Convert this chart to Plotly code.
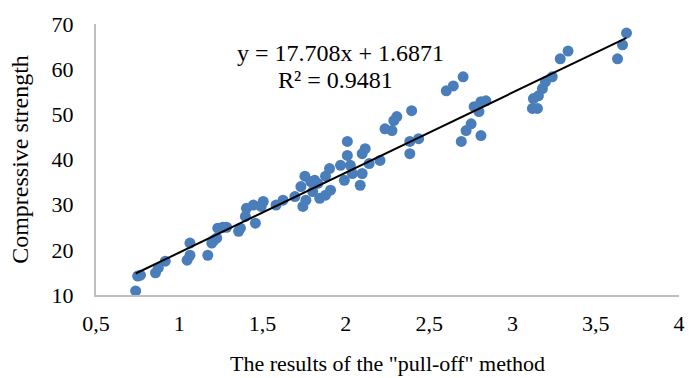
import plotly.graph_objects as go

# Data (x: "pull-off" result, y: compressive strength)
pull_off = [
    0.738, 0.750, 0.767, 0.857, 0.874, 0.916, 1.047, 1.064, 1.064, 1.171,
    1.195, 1.207, 1.225, 1.231, 1.261, 1.284, 1.356, 1.367, 1.397, 1.403,
    1.445, 1.457, 1.492, 1.504, 1.581, 1.623, 1.694, 1.730, 1.754, 1.742,
    1.760, 1.789, 1.813, 1.801, 1.843, 1.878, 1.908, 1.831, 1.878, 1.902,
    1.968, 1.991, 2.009, 2.009, 2.027, 2.039, 2.098, 2.086, 2.098, 2.116,
    2.140, 2.205, 2.235, 2.277, 2.288, 2.306, 2.384, 2.384, 2.395, 2.437,
    2.603, 2.645, 2.704, 2.693, 2.722, 2.752, 2.811, 2.770, 2.799, 2.811,
    2.841, 3.126, 3.120, 3.150, 3.156, 3.180, 3.198, 3.239, 3.287, 3.334,
    3.631, 3.661, 3.685,
]
strength = [
    10.9, 14.2, 14.4, 14.9, 16.0, 17.5, 17.7, 18.8, 21.5, 18.8,
    21.5, 22.1, 22.6, 24.8, 25.0, 25.0, 24.1, 24.8, 27.4, 29.2,
    29.9, 25.9, 29.6, 30.7, 29.9, 31.0, 31.8, 34.0, 36.3, 29.6,
    31.0, 35.1, 35.4, 32.9, 31.4, 32.1, 33.2, 34.7, 36.3, 38.0,
    38.7, 35.4, 40.9, 44.0, 38.7, 36.9, 36.9, 34.3, 41.3, 42.4,
    39.1, 39.8, 46.8, 46.4, 48.6, 49.5, 41.3, 44.0, 50.8, 44.6,
    55.2, 56.3, 58.3, 44.0, 46.4, 47.9, 45.3, 51.7, 50.6, 52.8,
    53.0, 53.5, 51.3, 51.3, 54.1, 55.7, 57.2, 58.3, 62.3, 64.0,
    62.3, 65.4, 68.0,
]

slope = 17.708
intercept = 1.6871
r_squared = 0.9481

x_ticks = [0.5, 1, 1.5, 2, 2.5, 3, 3.5, 4]
x_tick_text = ["0,5", "1", "1,5", "2", "2,5", "3", "3,5", "4"]
y_ticks = [10, 20, 30, 40, 50, 60, 70]

FONT = "Liberation Serif, Times New Roman, serif"
BLUE = "#4A7EBB"
AXIS = "#BFBFBF"

x_min, x_max = min(pull_off), max(pull_off)
trend_x = [x_min, x_max]
trend_y = [slope * v + intercept for v in trend_x]

fig = go.Figure()
fig.add_trace(go.Scatter(
    x=pull_off, y=strength, mode="markers",
    marker=dict(color=BLUE, size=11, line=dict(width=0)),
    showlegend=False,
))
fig.add_trace(go.Scatter(
    x=trend_x, y=trend_y, mode="lines",
    line=dict(color="black", width=2),
    showlegend=False,
))

fig.add_annotation(
    xref="paper", yref="paper", x=0.42, y=1 - (53 - 24) / 273,
    xanchor="center", yanchor="middle", showarrow=False,
    text=f"y = {slope}x + {intercept}",
    font=dict(family=FONT, size=24, color="black"),
)
fig.add_annotation(
    xref="paper", yref="paper", x=0.411, y=1 - (80 - 24) / 273,
    xanchor="center", yanchor="middle", showarrow=False,
    text=f"R² = {r_squared}",
    font=dict(family=FONT, size=24, color="black"),
)

fig.update_layout(
    width=691, height=378,
    margin=dict(l=96, r=6, t=24, b=81),
    paper_bgcolor="white", plot_bgcolor="white",
    font=dict(family=FONT, size=22, color="black"),
    xaxis=dict(
        range=[0.5, 4], tickvals=x_ticks, ticktext=x_tick_text,
        showgrid=False, zeroline=False, showline=True,
        linecolor=AXIS, linewidth=2, ticks="", ticklabelstandoff=8,
        title=dict(text='The results of the "pull-off" method', standoff=20,
                   font=dict(family=FONT, size=22)),
    ),
    yaxis=dict(
        range=[10, 70], tickvals=y_ticks,
        showgrid=False, zeroline=False, showline=True,
        linecolor=AXIS, linewidth=2, ticks="", ticklabelstandoff=16,
        title=dict(text="Compressive strength", standoff=16,
                   font=dict(family=FONT, size=24)),
    ),
)

fig.write_html("out.html")
